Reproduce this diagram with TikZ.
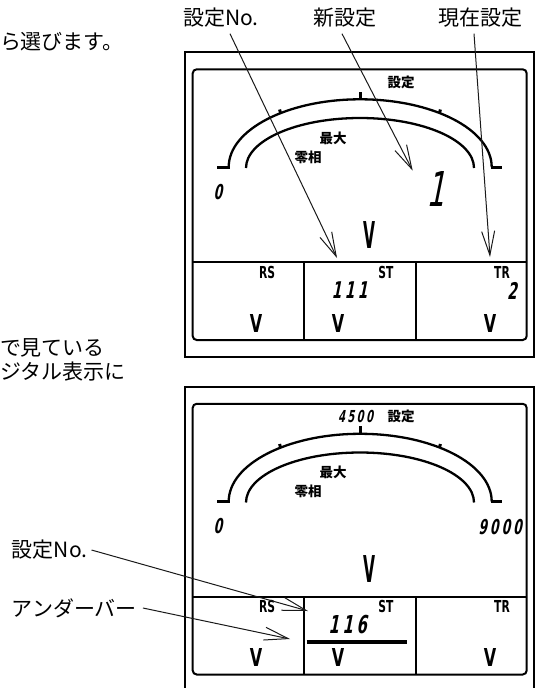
\documentclass[tikz,border=0pt]{standalone}
\usepackage{fontspec}
\usepackage{tikz}
\usetikzlibrary{arrows.meta}

\newfontfamily\jpfont{Noto Sans CJK JP}
\newfontfamily\segfont[FakeStretch=0.65]{DejaVu Sans}
\newfontfamily\vfont[FakeStretch=0.42]{DejaVu Sans}
\newfontfamily\digfont[FakeStretch=0.6,FakeSlant=0.2,LetterSpace=15]{DejaVu Sans}

\begin{document}
\begin{tikzpicture}[x=1pt,y=-1pt]
  \tikzset{TextStyle/.style = {
    font          = \jpfont\fontsize{21}{25}\selectfont,
    inner sep     = 0pt,
    outer sep     = 0pt
    }
  }
  \tikzset{ArrowStyle/.style = {
    draw          = black!90,
    line width    = 1pt,
    -{Straight Barb[length=24pt,width=13pt]}
    }
  }
  \tikzset{FrameStyle/.style = {draw = black, line width = 2pt}}
  \tikzset{ScaleStyle/.style = {draw = black, line width = 2.3pt}}
  \tikzset{TickStyle/.style  = {draw = black, line width = 3pt}}
  \tikzset{JpBoldStyle/.style = {
    font          = \jpfont\bfseries\fontsize{13.5}{15}\selectfont,
    inner sep     = 0pt
    }
  }
  \tikzset{SegStyle/.style = {
    font          = \segfont\bfseries\fontsize{16.5}{18}\selectfont,
    inner sep     = 0pt
    }
  }
  \tikzset{UnitStyle/.style = {
    font          = \segfont\bfseries\fontsize{24.7}{26}\selectfont,
    inner sep     = 0pt
    }
  }
  \tikzset{DigitStyle/.style = {
    font          = \digfont\bfseries\fontsize{#1}{#1}\selectfont,
    inner sep     = 0pt
    }
  }

  \useasboundingbox (0,0) rectangle (540,688);
  \clip (0,0) rectangle (540,688);

  % the two meter faces
  \foreach \p/\dy in {a/0, b/334.5}{
    \begin{scope}[shift={(0,\dy)}]
      \draw[FrameStyle] (185,52.3) rectangle (534,356.7);
      \draw[FrameStyle, rounded corners=4pt] (192.7,69.3) rectangle (526.7,340);
      \draw[FrameStyle] (192.7,262.3) -- (526.7,262.3);
      \draw[FrameStyle] (304,262.3) -- (304,340) (415.7,262.3) -- (415.7,340);
      \draw[ScaleStyle] (228.7,167) arc[start angle=180, end angle=360, x radius=131.5, y radius=67.7];
      \draw[ScaleStyle] (246,168) arc[start angle=180, end angle=360, x radius=114, y radius=50];
      \draw[TickStyle] (217,167) -- (229.8,167) (490.6,167) -- (501.7,167);
      \draw[TickStyle] (360,99.5) -- (360,91.5);
      \draw[TickStyle] (280.5,113) -- (279.6,109.5) (439.5,113) -- (440.4,109.5);

      \node[JpBoldStyle] (set\p) at (401,82) {設定};
      \node[JpBoldStyle] (max\p) at (333,138) {最大};
      \node[JpBoldStyle] (zero\p) at (308,157) {零相};
      \node[DigitStyle=20.5] (min\p) at (218,192) {0};
      \node[font=\vfont\bfseries\fontsize{37}{38}\selectfont, inner sep=0pt] (vMain\p) at (370,235) {V};
      \node[SegStyle] (rs\p) at (267,272) {RS};
      \node[SegStyle] (st\p) at (386,272) {ST};
      \node[SegStyle] (tr\p) at (502,272) {TR};
      \node[UnitStyle] (vRs\p) at (256,323) {V};
      \node[UnitStyle] (vSt\p) at (338,323) {V};
      \node[UnitStyle] (vTr\p) at (490,323) {V};
    \end{scope}
  }

  % upper face: readings
  \node[font=\digfont\fontsize{48}{48}\selectfont, inner sep=0pt] (newVal) at (436,189) {1};
  \node[DigitStyle=23] (noVal) at (349.5,290) {111};
  \node[DigitStyle=23] (curVal) at (512,291) {2};

  % lower face: readings
  \node[DigitStyle=16.5] (midVal) at (355.5,416) {4500};
  \node[DigitStyle=20.5] (maxVal) at (500,527) {9000};
  \node[DigitStyle=24.7] (noValB) at (347.5,624.7) {116};
  \coordinate (barL) at (306.7,642.3);
  \coordinate (barR) at (406.7,642.3);
  \draw[line width=4pt] (barL) -- (barR);

  % captions
  \node[TextStyle] (lblNo) at (221,18) {設定No.};
  \node[TextStyle] (lblNew) at (345,18) {新設定};
  \node[TextStyle] (lblCur) at (480,18) {現在設定};
  \node[TextStyle, anchor=west] (txtSel) at (0,42) {ら選びます。};
  \node[TextStyle, anchor=west] (txtSee) at (0,348) {で見ている};
  \node[TextStyle, anchor=west] (txtDig) at (0,372) {ジタル表示に};
  \node[TextStyle, anchor=west] (lblNoB) at (12,550) {設定No.};
  \node[TextStyle, anchor=west] (lblBar) at (12,608) {アンダーバー};

  \coordinate (tipNo) at (337,258);
  \coordinate (tipNew) at (412.7,170.7);
  \coordinate (tipCur) at (490,257);
  \coordinate (tipNoB) at (308,611);
  \coordinate (tipBar) at (290,639);

  \draw[ArrowStyle] ([xshift=9pt,yshift=-6pt]lblNo.south) -- (tipNo);
  \draw[ArrowStyle] ([xshift=-3pt,yshift=-6pt]lblNew.south) -- (tipNew);
  \draw[ArrowStyle] ([xshift=-6pt,yshift=-6pt]lblCur.south) -- (tipCur);
  \draw[ArrowStyle] ([xshift=4pt]lblNoB.east) -- (tipNoB);
  \draw[ArrowStyle] ([xshift=6pt]lblBar.east) -- (tipBar);

\end{tikzpicture}
\end{document}
